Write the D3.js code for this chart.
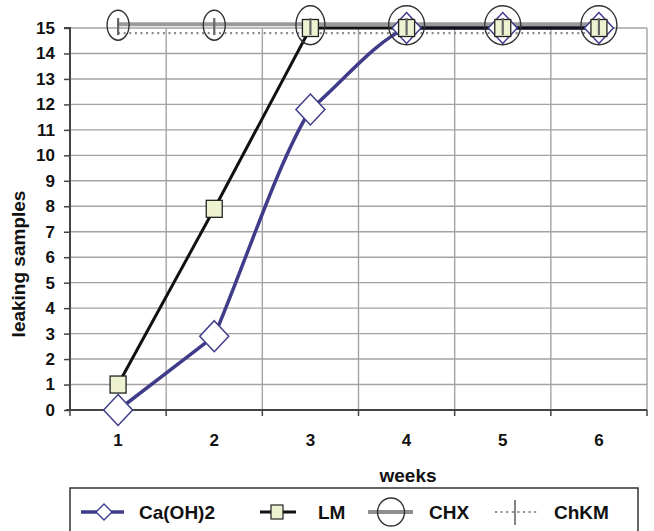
<!DOCTYPE html>
<html>
<head>
<meta charset="utf-8">
<script src="https://cdn.jsdelivr.net/npm/d3@7"></script>
<style>
  html, body { margin: 0; padding: 0; background: #fff; }
  svg { display: block; }
  text { font-family: "Liberation Sans", Arial, sans-serif; font-weight: bold; fill: #111; }
</style>
</head>
<body>
<svg id="chart" width="654" height="531"></svg>
<script>
// ---- data ----
const weeks = ["1", "2", "3", "4", "5", "6"];
const yTickValues = [0, 1, 2, 3, 4, 5, 6, 7, 8, 9, 10, 11, 12, 13, 14, 15];
const caOH2 = [0, 2.9, 11.8, 15, 15, 15];
const lm = [1, 7.9, 15, 15, 15, 15];
const chx = [15.15, 15.15, 15.15, 15.15, 15.15, 15.15];
const chkm = [14.8, 14.8, 14.8, 14.8, 14.8, 14.8];
const seriesNames = ["Ca(OH)2", "LM", "CHX", "ChKM"];
const xTitle = "weeks";
const yTitle = "leaking samples";

// ---- layout ----
const W = 654, H = 531;
const margin = { left: 70, right: 7, top: 28, bottom: 121 };
const svg = d3.select("#chart");

const x = d3.scaleBand().domain(weeks).range([margin.left, W - margin.right]).padding(0);
const y = d3.scaleLinear().domain([0, 15]).range([H - margin.bottom, margin.top]);
const cx = w => x(w) + x.bandwidth() / 2;

const gridColor = "#a3a3a3";
const axisColor = "#444";

// gently rounded polyline: each segment leaves straight and eases into a flatter next segment
class EaseCurve {
  constructor(ctx) { this._ctx = ctx; }
  areaStart() {} areaEnd() {}
  lineStart() { this._p = []; }
  point(px, py) { this._p.push([+px, +py]); }
  lineEnd() {
    const p = this._p, c = this._ctx, n = p.length;
    if (!n) return;
    c.moveTo(p[0][0], p[0][1]);
    for (let i = 0; i < n - 1; i++) {
      const [x0, y0] = p[i], [x1, y1] = p[i + 1];
      const h = x1 - x0, d = (y1 - y0) / h;
      let m1 = d;
      if (i + 2 < n) {
        const dn = (p[i + 2][1] - y1) / (p[i + 2][0] - x1);
        if (Math.abs(dn) < Math.abs(d) && dn * d >= 0) m1 = (d + dn) / 2;
      }
      c.bezierCurveTo(x0 + h / 3, y0 + d * h / 3, x1 - h / 3, y1 - m1 * h / 3, x1, y1);
    }
  }
}
const easeCurve = ctx => new EaseCurve(ctx);

// horizontal gridlines
svg.append("g").selectAll("line").data(yTickValues.filter(v => v > 0)).join("line")
  .attr("x1", x.range()[0]).attr("x2", x.range()[1])
  .attr("y1", d => y(d)).attr("y2", d => y(d))
  .attr("stroke", gridColor).attr("stroke-width", 1.4);

// vertical gridlines at band boundaries
svg.append("g").selectAll("line").data(weeks).join("line")
  .attr("x1", d => x(d) + x.bandwidth()).attr("x2", d => x(d) + x.bandwidth())
  .attr("y1", y(15)).attr("y2", y(0))
  .attr("stroke", gridColor).attr("stroke-width", 1.4);

// y axis
const yAxis = d3.axisLeft(y).tickValues(yTickValues).tickSize(6).tickPadding(9).tickFormat(d3.format("d"));
const gy = svg.append("g").attr("transform", `translate(${margin.left},0)`).call(yAxis);
gy.select(".domain").attr("stroke", axisColor).attr("stroke-width", 2).attr("d", `M-6,${y(15)}H0V${y(0)}`);
gy.selectAll(".tick line").attr("stroke", axisColor).attr("stroke-width", 1.5);
gy.selectAll(".tick text").style("font-size", "17px").attr("fill", "#111")
  .style("font-family", '"Liberation Sans", Arial, sans-serif').style("font-weight", "bold");

// x axis (ticks at band boundaries)
const gx = svg.append("g").attr("transform", `translate(0,${y(0)})`);
gx.append("line").attr("x1", margin.left - 4).attr("x2", x.range()[1])
  .attr("y1", 0).attr("y2", 0).attr("stroke", axisColor).attr("stroke-width", 2);
gx.selectAll("line.tk").data([weeks[0]].concat(weeks)).join("line").attr("class", "tk")
  .attr("x1", (d, i) => i === 0 ? x(d) : x(d) + x.bandwidth())
  .attr("x2", (d, i) => i === 0 ? x(d) : x(d) + x.bandwidth())
  .attr("y1", 0).attr("y2", 6).attr("stroke", axisColor).attr("stroke-width", 1.5);
gx.selectAll("text").data(weeks).join("text")
  .attr("x", d => cx(d)).attr("y", 30)
  .attr("text-anchor", "middle").attr("dominant-baseline", "central")
  .style("font-size", "17px").text(d => d);

// axis titles
svg.append("text").attr("x", 408).attr("y", 482).attr("text-anchor", "middle")
  .style("font-size", "19px").text(xTitle);
svg.append("text").attr("transform", "translate(25,264) rotate(-90)").attr("text-anchor", "middle")
  .style("font-size", "19px").text(yTitle);

// ---- series ----
const caColor = "#3f3c8a";
const lineGen = curve => d3.line().x((d, i) => cx(weeks[i])).y(d => y(d)).curve(curve);

// ChKM dotted line
svg.append("path").attr("d", lineGen(d3.curveLinear)(chkm))
  .attr("fill", "none").attr("stroke", "#8a8a8a").attr("stroke-width", 2.2)
  .attr("stroke-dasharray", "2,3.6");
// CHX thick grey line
svg.append("path").attr("d", lineGen(d3.curveLinear)(chx))
  .attr("fill", "none").attr("stroke", "#9a9a9a").attr("stroke-width", 4);
// Ca(OH)2 smooth line
svg.append("path").attr("d", lineGen(easeCurve)(caOH2))
  .attr("fill", "none").attr("stroke", caColor).attr("stroke-width", 3.5);
// LM line
svg.append("path").attr("d", lineGen(d3.curveLinear)(lm))
  .attr("fill", "none").attr("stroke", "#111").attr("stroke-width", 3);

// Ca(OH)2 diamonds
const dia = (hw, hh) => `M0,${-hh}L${hw},0L0,${hh}L${-hw},0Z`;
svg.append("g").selectAll("path").data(caOH2).join("path")
  .attr("transform", (d, i) => `translate(${cx(weeks[i])},${y(d)})`)
  .attr("d", dia(14.5, 15.5)).attr("fill", "#fff").attr("stroke", caColor).attr("stroke-width", 1.5);

// LM squares
svg.append("g").selectAll("rect").data(lm).join("rect")
  .attr("x", (d, i) => cx(weeks[i]) - 8).attr("y", d => y(d) - 8.5)
  .attr("width", 16).attr("height", 17)
  .attr("fill", "#eef2d0").attr("stroke", "#222").attr("stroke-width", 1.3);

// CHX circles (enlarged where several markers coincide)
const overlap = i => [caOH2[i], lm[i], chx[i], chkm[i]].filter(v => Math.abs(v - chx[i]) < 0.5).length;
svg.append("g").selectAll("ellipse").data(chx).join("ellipse")
  .attr("cx", (d, i) => cx(weeks[i])).attr("cy", d => y(d) + 1)
  .attr("rx", (d, i) => 11 + 3.5 * (overlap(i) - 2))
  .attr("ry", (d, i) => Math.min(15 + 4.5 * (overlap(i) - 2), 19.5))
  .attr("fill", "none").attr("stroke", "#333").attr("stroke-width", 1.4);

// ChKM tick markers
svg.append("g").selectAll("line").data(chkm).join("line")
  .attr("x1", (d, i) => cx(weeks[i])).attr("x2", (d, i) => cx(weeks[i]))
  .attr("y1", d => y(d) - 15).attr("y2", d => y(d) + 2)
  .attr("stroke", "#666").attr("stroke-width", 2.2);

// ---- legend ----
const lg = svg.append("g");
lg.append("rect").attr("x", 70).attr("y", 488).attr("width", 568).attr("height", 70)
  .attr("fill", "#fff").attr("stroke", "#333").attr("stroke-width", 1.5);
const ly = 512;
// Ca(OH)2
lg.append("line").attr("x1", 81).attr("x2", 124).attr("y1", ly).attr("y2", ly)
  .attr("stroke", caColor).attr("stroke-width", 3.5);
lg.append("path").attr("transform", `translate(104,${ly})`).attr("d", dia(8, 8))
  .attr("fill", "#fff").attr("stroke", caColor).attr("stroke-width", 1.4);
lg.append("text").attr("x", 139).attr("y", 519).style("font-size", "19px").text(seriesNames[0]);
// LM
lg.append("line").attr("x1", 260).attr("x2", 296).attr("y1", ly).attr("y2", ly)
  .attr("stroke", "#111").attr("stroke-width", 3);
lg.append("rect").attr("x", 271).attr("y", ly - 7).attr("width", 12).attr("height", 14)
  .attr("fill", "#eef2d0").attr("stroke", "#222").attr("stroke-width", 1.2);
lg.append("text").attr("x", 318).attr("y", 519).style("font-size", "19px").text(seriesNames[1]);
// CHX
lg.append("line").attr("x1", 368).attr("x2", 413).attr("y1", ly).attr("y2", ly)
  .attr("stroke", "#8f8f8f").attr("stroke-width", 4);
lg.append("ellipse").attr("cx", 391).attr("cy", ly).attr("rx", 13.5).attr("ry", 14)
  .attr("fill", "none").attr("stroke", "#333").attr("stroke-width", 1.4);
lg.append("text").attr("x", 429).attr("y", 519).style("font-size", "19px").text(seriesNames[2]);
// ChKM
lg.append("line").attr("x1", 495).attr("x2", 537).attr("y1", ly).attr("y2", ly)
  .attr("stroke", "#8a8a8a").attr("stroke-width", 2.2).attr("stroke-dasharray", "2,3.6");
lg.append("line").attr("x1", 515).attr("x2", 515).attr("y1", ly - 12).attr("y2", ly + 13)
  .attr("stroke", "#666").attr("stroke-width", 1.6);
lg.append("text").attr("x", 554).attr("y", 519).style("font-size", "19px").text(seriesNames[3]);
</script>
</body>
</html>
